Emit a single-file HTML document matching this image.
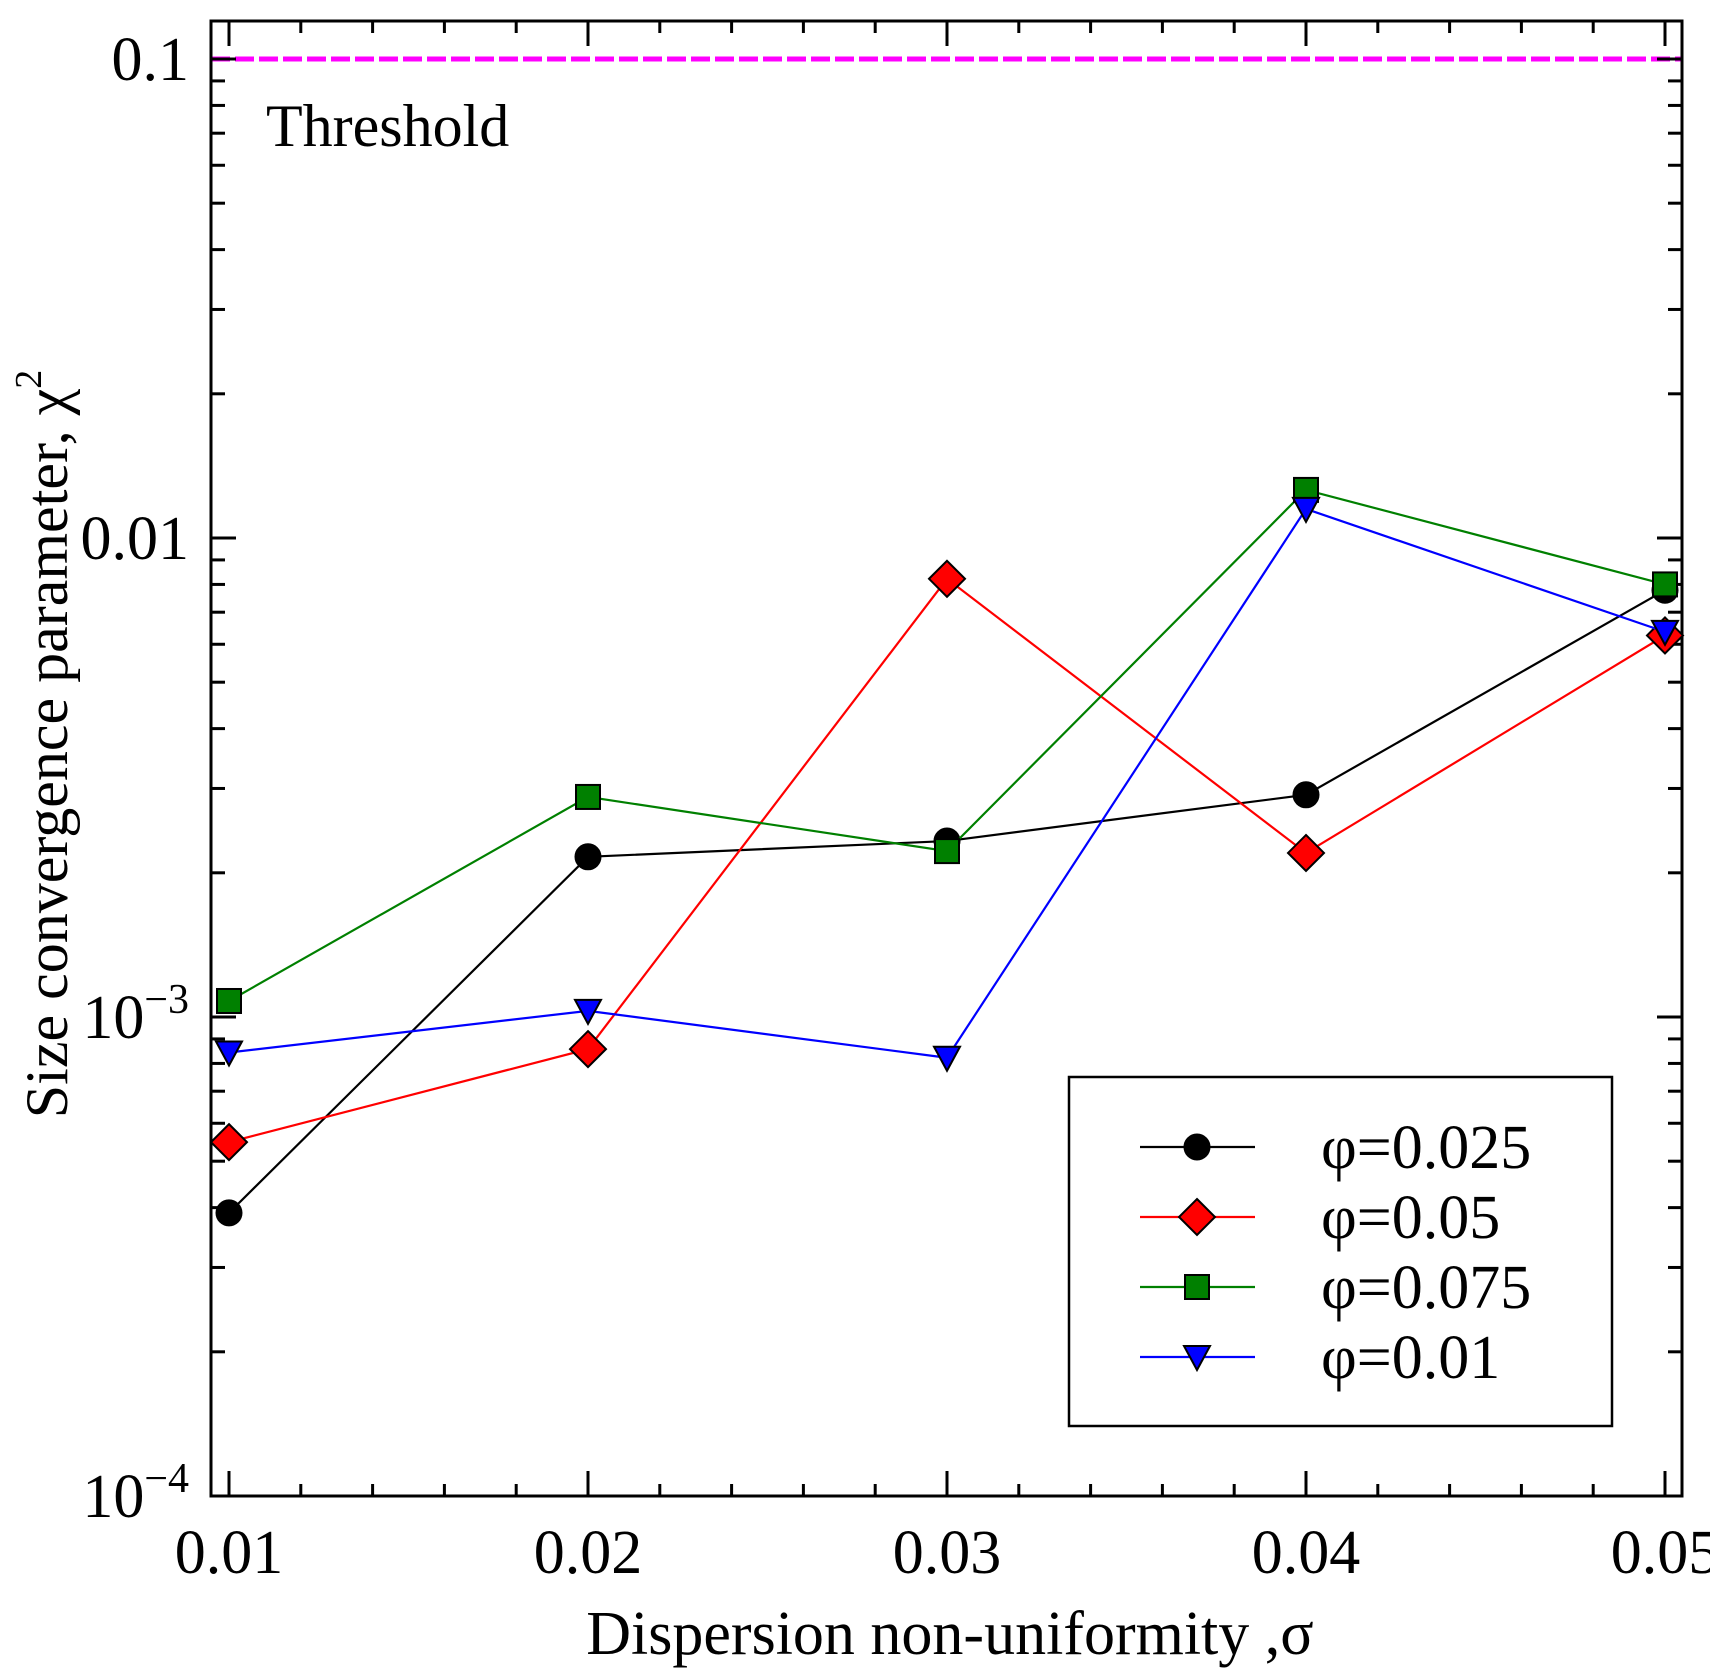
<!DOCTYPE html>
<html><head><meta charset="utf-8"><style>
html,body{margin:0;padding:0;background:#fff;}
svg{display:block;font-family:"Liberation Serif",serif;}
</style></head><body>
<svg id="chart" width="1710" height="1677" viewBox="0 0 1710 1677" xmlns="http://www.w3.org/2000/svg">
</svg>
<script>
const categories = [0.01, 0.02, 0.03, 0.04, 0.05];
const seriesNames = ["φ=0.025", "φ=0.05", "φ=0.075", "φ=0.01"];
const seriesPhi025 = [3.9e-4, 2.16e-3, 2.33e-3, 2.91e-3, 7.78e-3];
const seriesPhi05 = [5.48e-4, 8.57e-4, 8.22e-3, 2.20e-3, 6.26e-3];
const seriesPhi075 = [1.08e-3, 2.88e-3, 2.22e-3, 1.26e-2, 8.0e-3];
const seriesPhi01 = [8.43e-4, 1.03e-3, 8.22e-4, 1.15e-2, 6.37e-3];
const xTickLabels = ["0.01", "0.02", "0.03", "0.04", "0.05"];
const yTickExps = [-4, -3, -2, -1];
const threshold = 0.1;

const NS = "http://www.w3.org/2000/svg";
const svg = document.getElementById("chart");
const L = 211, R = 1682, T = 21, B = 1496;
function xs(v){ return 229 + (v - 0.01) / 0.01 * 359; }
function ys(v){ return B - (Math.log10(v) + 4) * 479; }
function el(tag, attrs, parent){
  const e = document.createElementNS(NS, tag);
  for (const k in attrs) e.setAttribute(k, attrs[k]);
  (parent || svg).appendChild(e);
  return e;
}
const th = el("line", {x1:L, x2:R, y1:ys(threshold), y2:ys(threshold), stroke:"#ff00ff", "stroke-width":5, "stroke-dasharray":"19,5"});


const tt = el("text", {x:266, y:146, "font-size":60});
tt.textContent = "Threshold";



const frame = el("rect", {x:L, y:T, width:R-L, height:B-T, fill:"none", stroke:"#000", "stroke-width":3});



for (let i = 0; i <= 20; i++) {
  const v = 0.01 + i * 0.002;
  const x = xs(v);
  const major = i % 5 === 0;
  const len = major ? 25 : 12;
  const t1 = el("line", {x1:x, x2:x, y1:B, y2:B-len, stroke:"#000", "stroke-width":3});
  
  
  const t2 = el("line", {x1:x, x2:x, y1:T, y2:T+len, stroke:"#000", "stroke-width":3});
  
  
}
categories.forEach((c, i) => {
  const t = el("text", {x:xs(c), y:1573, "font-size":62, "text-anchor":"middle"});
  t.textContent = xTickLabels[i];
  
  
});
for (let e = -4; e <= -1; e++) {
  for (let m = 1; m <= 9; m++) {
    const v = m * Math.pow(10, e);
    if (v > 0.12) break;
    const y = ys(v);
    if (y < T) continue;
    const len = m === 1 ? 25 : 14;
    const a = el("line", {x1:L, x2:L+len, y1:y, y2:y, stroke:"#000", "stroke-width":3});
    
    
    const b = el("line", {x1:R, x2:R-len, y1:y, y2:y, stroke:"#000", "stroke-width":3});
    
    
  }
}
yTickExps.forEach(e => {
  const y = ys(Math.pow(10, e));
  const t = el("text", {x:189, y:y+21, "font-size":62, "text-anchor":"end"});
  if (e >= -2) {
    t.textContent = e === -1 ? "0.1" : "0.01";
  } else {
    const a = document.createElementNS(NS, "tspan"); a.textContent = "10";
    const b = document.createElementNS(NS, "tspan"); b.textContent = "−" + (-e);
    b.setAttribute("font-size", "42"); b.setAttribute("dy", "-25");
    t.appendChild(a); t.appendChild(b);
  }
  
  
});
const xt = el("text", {x:950, y:1654, "font-size":62, "text-anchor":"middle"});
xt.textContent = "Dispersion non-uniformity ,σ";


const yt = el("text", {x:0, y:0, "font-size":60, "text-anchor":"middle", transform:"translate(67,744) rotate(-90)"});
yt.innerHTML = 'Size convergence parameter, χ<tspan font-size="38" dy="-26">2</tspan>';



const seriesData = [seriesPhi025, seriesPhi05, seriesPhi075, seriesPhi01];
const colors = ["#000000", "#ff0000", "#008000", "#0000ff"];
const shapes = ["circle", "diamond", "square", "triangle"];
function marker(shape, x, y, fill, parent){
  let m;
  if (shape === "circle") m = el("circle", {cx:x, cy:y, r:12.5, fill:fill, stroke:"#000", "stroke-width":2}, parent);
  else if (shape === "diamond") m = el("polygon", {points:`${x},${y-18} ${x+18},${y} ${x},${y+18} ${x-18},${y}`, fill:fill, stroke:"#000", "stroke-width":2}, parent);
  else if (shape === "square") m = el("rect", {x:x-12, y:y-12, width:24, height:24, fill:fill, stroke:"#000", "stroke-width":2}, parent);
  else m = el("polygon", {points:`${x-13},${y-11} ${x+13},${y-11} ${x},${y+13}`, fill:fill, stroke:"#000", "stroke-width":2}, parent);
  return m;
}
seriesData.forEach((s, si) => {
  const g = el("g", {});
  
  
  const pts = s.map((v, i) => xs(categories[i]) + "," + ys(v)).join(" ");
  const pl = el("polyline", {points:pts, fill:"none", stroke:colors[si], "stroke-width":2.2}, g);
  
  
  s.forEach((v, i) => {
    const m = marker(shapes[si], xs(categories[i]), ys(v), colors[si], g);
    
    
  });
});
const lg = el("g", {});


const lr = el("rect", {x:1069, y:1077, width:543, height:349, fill:"#fff", stroke:"#000", "stroke-width":2.5}, lg);


seriesNames.forEach((n, i) => {
  const y = 1147 + i * 70;
  const ln = el("line", {x1:1140, x2:1255, y1:y, y2:y, stroke:colors[i], "stroke-width":2.2}, lg);
  
  
  const m = marker(shapes[i], 1197, y, colors[i], lg);
  
  
  const t = el("text", {x:1321, y:y+21, "font-size":62}, lg);
  t.textContent = n;
  
  
});
</script>
</body></html>
